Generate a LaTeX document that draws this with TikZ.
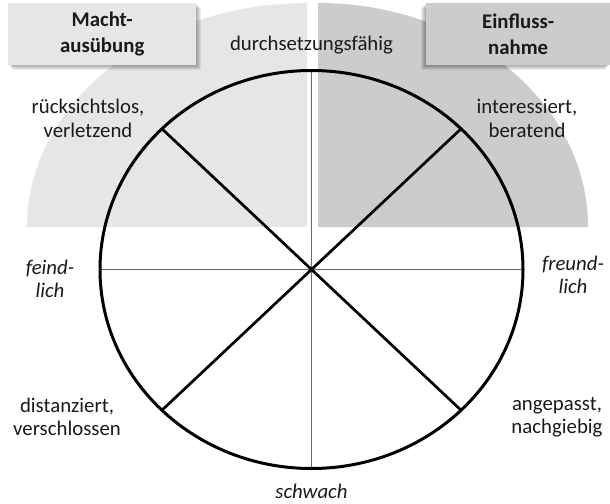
\documentclass[tikz,border=0pt]{standalone}
\usepackage{fontspec}
\setmainfont{Carlito}
\definecolor{lightreg}{HTML}{E6E6E6}
\definecolor{darkreg}{HTML}{CCCCCC}
\definecolor{thinline}{HTML}{666666}
\definecolor{txt}{HTML}{1A1A1A}
\begin{document}
\begin{tikzpicture}[x=1pt,y=-1pt,
  lbl/.style={font=\fontsize{20.8}{23.5}\selectfont, align=center, inner sep=0pt, text=txt},
  ilbl/.style={lbl, font=\fontsize{20.8}{23.5}\selectfont\itshape},
  blbl/.style={lbl, font=\fontsize{20.8}{26}\selectfont\bfseries},
  thin/.style={draw=thinline, line width=1.2pt},
  thick/.style={draw=black, line width=2.7pt},
  rim/.style={draw=black, line width=3pt},
  shade/.style={fill=black, fill opacity=0.07}
]
\useasboundingbox (0,0) rectangle (610,503);

% gray background quarter ellipses
\fill[lightreg] (307,227) -- (27,227) arc[start angle=180, end angle=270, x radius=280, y radius=224] -- cycle;
\fill[darkreg] (318,227) -- (588,227) arc[start angle=0, end angle=-90, x radius=270, y radius=224] -- cycle;

% box shadows
\foreach \s in {1,2,3,4,5} {
  \fill[shade] (8+\s,3+\s) rectangle (196+\s,65+\s);
  \fill[shade] (426-\s,3+\s) rectangle (610-\s,65+\s);
}
% header boxes
\node[blbl, fill=lightreg, minimum width=188pt, minimum height=62pt, anchor=north west] (macht) at (8,3) {Macht-\\ausübung};
\node[blbl, fill=darkreg, minimum width=184pt, minimum height=62pt, anchor=north west] (einfluss) at (426,3) {Einfluss-\\nahme};

% wheel
\coordinate (c) at (311.5,269.5);
\path (c) ++(90:211.5 and 199) coordinate (bot);
\path (c) ++(-90:211.5 and 199) coordinate (topp);
\path (c) ++(0:211.5 and 199) coordinate (right);
\path (c) ++(180:211.5 and 199) coordinate (left);
\path (c) ++(45:211.5 and 199) coordinate (d1);
\path (c) ++(135:211.5 and 199) coordinate (d2);
\path (c) ++(225:211.5 and 199) coordinate (d3);
\path (c) ++(315:211.5 and 199) coordinate (d4);

\draw[thin] (topp) -- (bot);
\draw[thin] (left) -- (right);
\draw[thick] (d1) -- (d3);
\draw[thick] (d2) -- (d4);
\draw[rim] (c) ellipse[x radius=211.5, y radius=199];

% labels
\node[lbl] (durch) at (311.5,45) {durchsetzungsfähig};
\node[lbl] (rueck) at (88,118.5) {rücksichtslos,\\verletzend};
\node[lbl] (inter) at (527,118.5) {interessiert,\\beratend};
\node[ilbl] (feind) at (50,279) {feind-\\lich};
\node[ilbl] (freund) at (573,275) {freund-\\lich};
\node[lbl] (dist) at (67,417) {distanziert,\\verschlossen};
\node[lbl] (anpass) at (557,417) {angepasst,\\nachgiebig};
\node[ilbl, anchor=base] (schwach) at (311.5,498.5) {schwach};
\end{tikzpicture}
\end{document}
